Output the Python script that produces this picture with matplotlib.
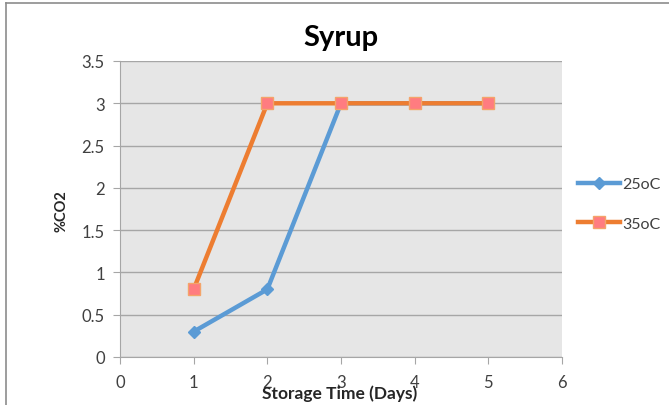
import matplotlib
matplotlib.use("Agg")
import matplotlib.pyplot as plt
from matplotlib.lines import Line2D

plt.rcParams['font.family'] = ['Lato', 'DejaVu Sans']

days = [1, 2, 3, 4, 5]
co2_25 = [0.3, 0.8, 3, 3, 3]
co2_35 = [0.8, 3, 3, 3, 3]
x_ticks = [0, 1, 2, 3, 4, 5, 6]
y_ticks = [0, 0.5, 1, 1.5, 2, 2.5, 3, 3.5]

fig = plt.figure(figsize=(6.69, 4.06), dpi=100)
ax = fig.add_axes([120/669, 1-358/406, (562-120)/669, (358-62)/406])
ax.set_facecolor('#E6E6E6')

ax.plot(days, co2_25, color='#5B9BD5', lw=3.2, marker='D', ms=6.5,
        mfc='#5B9BD5', mec='#5B9BD5', label='25oC', zorder=3)
ax.plot(days, co2_35, color='#ED7D31', lw=3.2, marker='s', ms=9,
        mfc='#FF7C80', mec='#F4A46A', mew=1, label='35oC', zorder=4)

ax.set_xlim(0, 6)
ax.set_ylim(0, 3.5)
ax.set_xticks(x_ticks)
ax.set_yticks(y_ticks)
ax.set_yticklabels(['0', '0.5', '1', '1.5', '2', '2.5', '3', '3.5'])
ax.grid(axis='y', color='#A6A6A6', lw=1)
ax.set_axisbelow(True)
for s in ['top', 'right']:
    ax.spines[s].set_visible(False)
for s in ['left', 'bottom']:
    ax.spines[s].set_color('#A6A6A6')
ax.tick_params(axis='both', colors='#A6A6A6', labelcolor='#404040',
               labelsize=12, length=5, direction='out')
ax.tick_params(axis='x', pad=7)
ax.tick_params(axis='y', pad=6)

fig.text(341/669, 1-38/406, 'Syrup', ha='center', va='center',
         fontsize=21, fontweight='bold', color='black')
fig.text(340/669, 1-394/406, 'Storage Time (Days)', ha='center', va='center',
         fontsize=12.5, fontweight='bold', color='#262626')
fig.text(62/669, 1-211/406, '%CO2', ha='center', va='center', rotation=90,
         fontsize=10.5, fontweight='bold', color='#262626')

leg = fig.legend(loc='center left', bbox_to_anchor=(578/669, 1-205/406),
                 frameon=False, fontsize=11.5, handlelength=2.6,
                 handletextpad=0.15, labelspacing=1.6,
                 borderpad=0, borderaxespad=0)
for t in leg.get_texts():
    t.set_color('#404040')

fig.add_artist(Line2D([6/669, 1], [1-4/406, 1-4/406], color='#8C8C8C', lw=1.2,
                      transform=fig.transFigure))
fig.add_artist(Line2D([6/669, 6/669], [0, 1-4/406], color='#8C8C8C', lw=1.2,
                      transform=fig.transFigure))

fig.savefig('out.png', dpi=100)
